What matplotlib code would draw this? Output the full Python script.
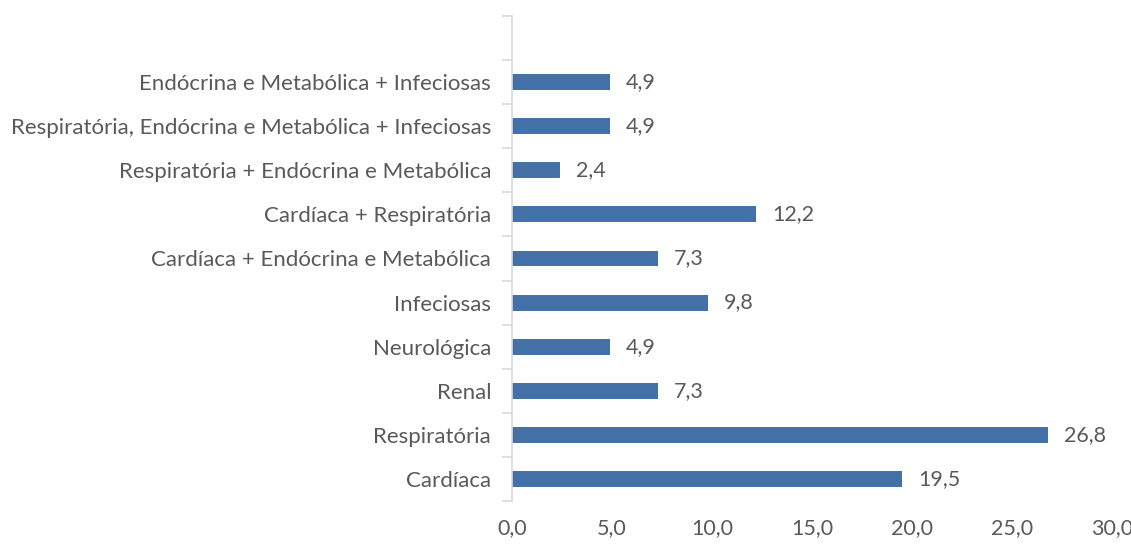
import matplotlib
matplotlib.use("Agg")
import matplotlib.pyplot as plt
from matplotlib.ticker import FixedLocator
from matplotlib.transforms import offset_copy

categories = ["Cardíaca", "Respiratória", "Renal", "Neurológica", "Infeciosas",
              "Cardíaca + Endócrina e Metabólica", "Cardíaca + Respiratória",
              "Respiratória + Endócrina e Metabólica",
              "Respiratória, Endócrina e Metabólica + Infeciosas",
              "Endócrina e Metabólica + Infeciosas"]
values = [19.5, 26.8, 7.3, 4.9, 9.8, 7.3, 12.2, 2.4, 4.9, 4.9]
xticks = [0, 5, 10, 15, 20, 25, 30]

plt.rcParams['font.family'] = ['Lato', 'DejaVu Sans']
txt = '#595959'
fs = 16
fs2 = 15.5

fig = plt.figure(figsize=(11.31, 5.44), dpi=100)
ax = fig.add_axes([512/1131, 43/544, 600/1131, 485/544])
y = list(range(len(categories)))
ax.barh(y, values, height=0.36, color='#4472A8')
ax.set_xlim(0, 30)
ax.set_ylim(-0.5, len(categories) + 0.5)

ax.set_yticks(y)
ax.set_yticklabels(categories, color=txt, fontsize=fs)
ax.yaxis.set_minor_locator(FixedLocator([i - 0.5 for i in range(len(categories) + 2)]))
ax.tick_params(axis='y', which='major', length=0, pad=15)
ax.tick_params(axis='y', which='minor', length=7, width=1.2, color='#d9d9d9')

ax.set_xticks(xticks)
ax.set_xticklabels([f"{t:.1f}".replace('.', ',') for t in xticks], color=txt, fontsize=fs2)
ax.tick_params(axis='x', length=0, pad=12)

for s in ['top', 'right', 'bottom']:
    ax.spines[s].set_visible(False)
ax.spines['left'].set_color('#d9d9d9')
ax.spines['left'].set_linewidth(1.2)

tr = offset_copy(ax.transData, fig=fig, x=16, y=0, units='dots')
for yi, v in zip(y, values):
    ax.text(v, yi, f"{v:.1f}".replace('.', ','), transform=tr, ha='left', va='center',
            color=txt, fontsize=fs2)

fig.savefig('out.png', dpi=100)
